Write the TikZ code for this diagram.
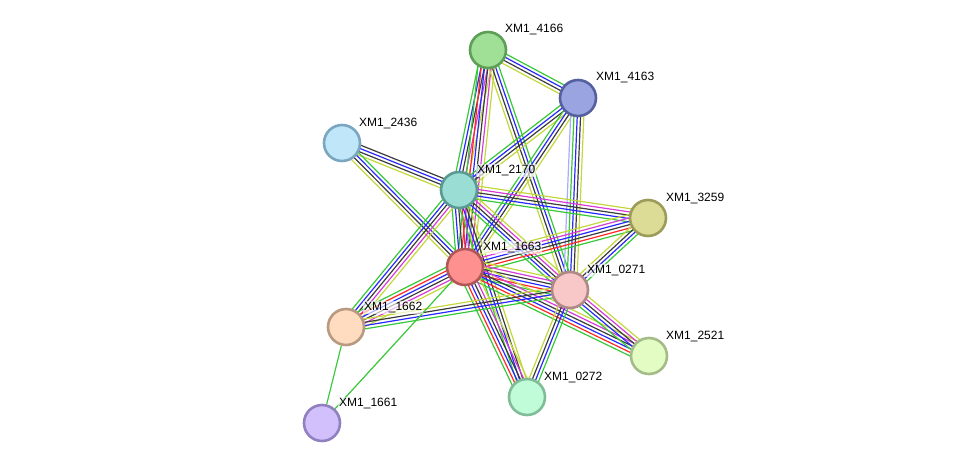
\documentclass[tikz,border=0pt]{standalone}
\usepackage{fontspec}
\setmainfont{Liberation Sans}
\usetikzlibrary{calc,backgrounds}
\definecolor{sgreen}{RGB}{55,200,55}
\definecolor{sred}{RGB}{255,40,40}
\definecolor{sblue}{RGB}{40,40,255}
\definecolor{sblack}{RGB}{60,60,60}
\definecolor{smag}{RGB}{215,60,215}
\definecolor{syel}{RGB}{195,215,60}
\definecolor{slav}{RGB}{170,170,255}
\tikzset{
  prot/.style={circle, minimum size=36pt, inner sep=0pt, line width=2.6pt},
  lbl/.style={anchor=west, font=\fontsize{12}{14}\selectfont, fill=white, fill opacity=0.65, text opacity=1, inner sep=1pt},
  chan/.style={line width=1.2pt}
}
\newcommand\bund[3]{%
  \xdef\nn{0}\foreach \c in {#3}{\xdef\nn{\the\numexpr\nn+1\relax}}%
  \foreach \c [count=\i] in {#3}{%
    \pgfmathsetmacro\off{(\i-(\nn+1)/2)*3.3}%
    \draw[chan,\c] ($(#1)!\off pt!90:(#2)$) -- ($(#2)!\off pt!-90:(#1)$);
  }}
\begin{document}
\begin{tikzpicture}[x=1pt,y=-1pt]
\useasboundingbox (0,0) rectangle (975,469);
\node[prot, fill={rgb,255:red,160;green,224;blue,150}, draw={rgb,255:red,94;green,158;blue,86}] (n4166) at (488,50) {};
\node[prot, fill={rgb,255:red,153;green,164;blue,224}, draw={rgb,255:red,85;green,96;blue,160}] (n4163) at (578,98) {};
\node[prot, fill={rgb,255:red,192;green,230;blue,250}, draw={rgb,255:red,123;green,166;blue,192}] (n2436) at (342,143) {};
\node[prot, fill={rgb,255:red,153;green,221;blue,213}, draw={rgb,255:red,91;green,154;blue,147}] (n2170) at (459,190) {};
\node[prot, fill={rgb,255:red,220;green,220;blue,150}, draw={rgb,255:red,156;green,156;blue,90}] (n3259) at (648,218) {};
\node[prot, fill={rgb,255:red,255;green,144;blue,144}, draw={rgb,255:red,176;green,88;blue,88}] (n1663) at (465,267) {};
\node[prot, fill={rgb,255:red,248;green,200;blue,200}, draw={rgb,255:red,176;green,136;blue,136}] (n0271) at (570,290) {};
\node[prot, fill={rgb,255:red,255;green,220;blue,192}, draw={rgb,255:red,184;green,154;blue,128}] (n1662) at (346,327) {};
\node[prot, fill={rgb,255:red,226;green,252;blue,196}, draw={rgb,255:red,164;green,188;blue,136}] (n2521) at (649,356) {};
\node[prot, fill={rgb,255:red,192;green,252;blue,216}, draw={rgb,255:red,128;green,188;blue,152}] (n0272) at (527,397) {};
\node[prot, fill={rgb,255:red,210;green,192;blue,252}, draw={rgb,255:red,144;green,128;blue,192}] (n1661) at (322,423) {};

\node[lbl] (l4166) at (504,29.5) {XM1\_4166};
\node[lbl] (l4163) at (595,77.5) {XM1\_4163};
\node[lbl] (l2436) at (358,123.5) {XM1\_2436};
\node[lbl] (l2170) at (476,170.5) {XM1\_2170};
\node[lbl] (l3259) at (665,198.5) {XM1\_3259};
\node[lbl] (l1663) at (482,247.5) {XM1\_1663};
\node[lbl] (l0271) at (586,270.5) {XM1\_0271};
\node[lbl] (l1662) at (363,307.5) {XM1\_1662};
\node[lbl] (l2521) at (665,336.5) {XM1\_2521};
\node[lbl] (l0272) at (543,377.5) {XM1\_0272};
\node[lbl] (l1661) at (338,403.5) {XM1\_1661};

\begin{pgfonlayer}{background}
\bund{n4166}{n4163}{syel,sblack,sblue,sgreen}
\bund{n4166}{n2170}{sgreen,sblue,sblack,smag,syel}
\bund{n4166}{n1663}{sgreen,sred,sblue,sblack,smag,syel}
\bund{n4166}{n0271}{syel,sblack,sblue,sgreen}
\bund{n4163}{n2170}{sgreen,sblue,sblack,syel}
\bund{n4163}{n1663}{sgreen,sblue,sblack,syel}
\bund{n4163}{n0271}{slav,sgreen,sblue,sblack,syel}
\bund{n2436}{n2170}{syel,sblack,sblue,sblack}
\bund{n2436}{n1663}{syel,sblack,sblue,sgreen}
\bund{n2170}{n3259}{sgreen,sblue,sblack,smag,syel}
\bund{n2170}{n1663}{sgreen,sblue,sblack,sred,smag,syel}
\bund{n2170}{n0271}{sgreen,sblue,sblack,smag,syel}
\bund{n2170}{n1662}{sgreen,sblue,sblack,smag,syel}
\bund{n2170}{n0272}{sgreen,sblue,sblack,syel}
\bund{n1663}{n3259}{sgreen,sred,sblack,sblue,smag,syel}
\bund{n1663}{n0271}{sgreen,sred,sblue,sblack,smag,syel}
\bund{n1663}{n1662}{sgreen,sred,sblue,sblack,smag,syel}
\bund{n1663}{n2521}{sgreen,sred,sblue,sblack,smag,syel}
\bund{n1663}{n0272}{sgreen,sred,sblue,sblack,smag,syel}
\bund{n0271}{n3259}{sgreen,sblue,sblack,syel}
\bund{n0271}{n2521}{sgreen,sblue,sblack,smag,syel}
\bund{n0271}{n0272}{syel,sblack,sblue,sgreen}
\bund{n0271}{n1662}{syel,sblack,sblue,sgreen}
\draw[chan,sgreen] (n1663) -- (n1661);
\draw[chan,sgreen] (n1662) -- (n1661);
\end{pgfonlayer}
\end{tikzpicture}
\end{document}
